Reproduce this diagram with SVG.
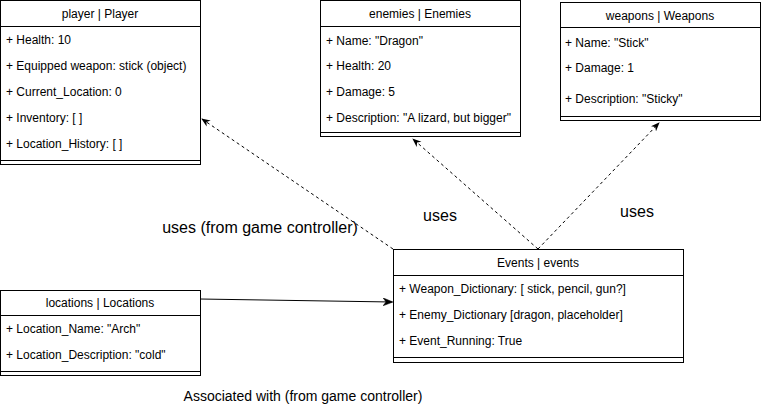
<svg xmlns="http://www.w3.org/2000/svg" width="761" height="411" viewBox="0 0 761 411">
<style>
.box{fill:#fff;stroke:#000;stroke-width:1}
.ln{stroke:#000;stroke-width:1;fill:none}
.t{font-family:"Liberation Sans",Arial,sans-serif;font-size:12px;fill:#000}
.h{text-anchor:middle}
.dash{stroke:#000;stroke-width:1;fill:none;stroke-dasharray:3 3}
.solid{stroke:#000;stroke-width:1;fill:none}
.lbl{font-family:"Liberation Sans",Arial,sans-serif;fill:#000;text-anchor:middle}
</style>
<defs>
<marker id="dep" viewBox="0 0 10 8" refX="9" refY="4" markerWidth="9" markerHeight="8" markerUnits="userSpaceOnUse" orient="auto">
<path d="M0,0 L10,4 L0,8 L3,4 z" fill="#000"/>
</marker>
<marker id="cls" viewBox="0 0 10 8" refX="9" refY="4" markerWidth="10" markerHeight="8" markerUnits="userSpaceOnUse" orient="auto">
<path d="M0,0 L10,4 L0,8 L3,4 z" fill="#000" stroke="#000" stroke-width="0.5"/>
</marker>
</defs>
<g id="connectors">
<path class="dash" d="M393,249 L202,119" marker-end="url(#dep)"/>
<path class="dash" d="M538,249 L413,139" marker-end="url(#dep)"/>
<path class="dash" d="M538,249 L659,123" marker-end="url(#dep)"/>
<path class="solid" d="M200,299 L392,302" marker-end="url(#cls)"/>
<text class="lbl" x="260" y="233" font-size="16">uses (from game controller)</text>
<text class="lbl" x="440" y="221" font-size="16">uses</text>
<text class="lbl" x="637" y="217" font-size="16">uses</text>
<text class="lbl" x="303" y="401" font-size="14">Associated with (from game controller)</text>
</g>
<g id="player">
<rect class="box" x="0.5" y="0.5" width="200" height="164"/>
<line class="ln" x1="0.5" y1="26.5" x2="200.5" y2="26.5"/>
<line class="ln" x1="0.5" y1="160.5" x2="200.5" y2="160.5"/>
<text class="t h" x="100" y="18">player | Player</text>
<text class="t" x="6" y="44">+ Health: 10</text>
<text class="t" x="6" y="70">+ Equipped weapon: stick (object)</text>
<text class="t" x="6" y="96">+ Current_Location: 0</text>
<text class="t" x="6" y="122">+ Inventory: [ ]</text>
<text class="t" x="6" y="148">+ Location_History: [ ]</text>
</g>
<g id="enemies">
<rect class="box" x="320.5" y="0.5" width="200" height="136"/>
<line class="ln" x1="320.5" y1="26.5" x2="520.5" y2="26.5"/>
<line class="ln" x1="320.5" y1="132.5" x2="520.5" y2="132.5"/>
<text class="t h" x="420" y="18">enemies | Enemies</text>
<text class="t" x="326" y="45">+ Name: "Dragon"</text>
<text class="t" x="326" y="70">+ Health: 20</text>
<text class="t" x="326" y="96">+ Damage: 5</text>
<text class="t" x="326" y="122">+ Description: "A lizard, but bigger"</text>
</g>
<g id="weapons">
<rect class="box" x="560.5" y="2.5" width="200" height="118"/>
<line class="ln" x1="560.5" y1="27.5" x2="760.5" y2="27.5"/>
<line class="ln" x1="560.5" y1="116.5" x2="760.5" y2="116.5"/>
<text class="t h" x="660" y="20">weapons | Weapons</text>
<text class="t" x="565" y="47">+ Name: "Stick"</text>
<text class="t" x="565" y="72">+ Damage: 1</text>
<text class="t" x="565" y="103">+ Description: "Sticky"</text>
</g>
<g id="locations">
<rect class="box" x="0.5" y="290.5" width="200" height="85"/>
<line class="ln" x1="0.5" y1="315.5" x2="200.5" y2="315.5"/>
<line class="ln" x1="0.5" y1="371.5" x2="200.5" y2="371.5"/>
<text class="t h" x="100" y="307">locations | Locations</text>
<text class="t" x="6" y="333">+ Location_Name: "Arch"</text>
<text class="t" x="6" y="359">+ Location_Description: "cold"</text>
</g>
<g id="events">
<rect class="box" x="393.5" y="249.5" width="290" height="113"/>
<line class="ln" x1="393.5" y1="275.5" x2="683.5" y2="275.5"/>
<line class="ln" x1="393.5" y1="357.5" x2="683.5" y2="357.5"/>
<text class="t h" x="538" y="267">Events | events</text>
<text class="t" x="399" y="293">+ Weapon_Dictionary: [ stick, pencil, gun?]</text>
<text class="t" x="399" y="319">+ Enemy_Dictionary [dragon, placeholder]</text>
<text class="t" x="399" y="345">+ Event_Running: True</text>
</g>
</svg>
